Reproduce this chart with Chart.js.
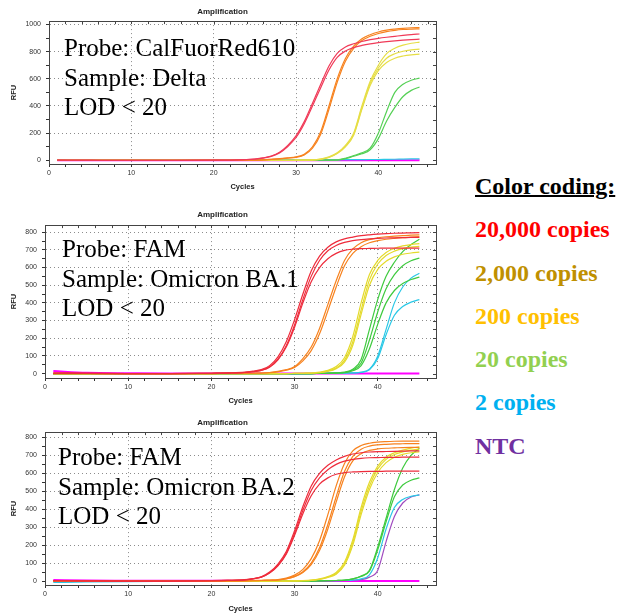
<!DOCTYPE html>
<html>
<head>
<meta charset="utf-8">
<script src="https://cdn.jsdelivr.net/npm/chart.js@4.4.1/dist/chart.umd.min.js"></script>
<style>
  body { margin: 0; background: #fff; width: 618px; height: 613px; overflow: hidden; position: relative; }
  canvas { position: absolute; left: 0; }
  .probe { position: absolute; font-family: "Liberation Serif", serif; font-size: 25px; line-height: 29.5px; color: #000; white-space: nowrap; }
  .key { position: absolute; left: 475px; top: 165px; font-family: "Liberation Serif", serif; font-weight: bold; font-size: 24px; line-height: 43.3px; white-space: nowrap; }
</style>
</head>
<body>
<canvas id="delta" width="460" height="195" style="top:0px"></canvas>
<canvas id="ba1" width="460" height="206" style="top:203px"></canvas>
<canvas id="ba2" width="460" height="206" style="top:411px"></canvas>

<div class="probe" style="left:64px; top:33px">Probe: CalFuorRed610<br>Sample: Delta<br>LOD &lt; 20</div>
<div class="probe" style="left:62px; top:234px">Probe: FAM<br>Sample: Omicron BA.1<br>LOD &lt; 20</div>
<div class="probe" style="left:58px; top:442px">Probe: FAM<br>Sample: Omicron BA.2<br>LOD &lt; 20</div>

<div class="key">
  <div style="color:#000; text-decoration: underline; text-decoration-thickness: 2px;">Color coding:</div>
  <div style="color:#ff0000">20,000 copies</div>
  <div style="color:#bf9000">2,000 copies</div>
  <div style="color:#ffc000">200 copies</div>
  <div style="color:#92d050">20 copies</div>
  <div style="color:#00b0f0">2 copies</div>
  <div style="color:#7030a0">NTC</div>
</div>

<script>
const cycles = [1, 5, 10, 15, 20, 22, 24, 25, 26, 27, 28, 29, 30, 31, 32, 33, 34, 35, 36, 37, 38, 39, 40, 41, 42, 43, 44, 45];

// axis ticks (minor marks; labelled every 10 cycles / every yStep RFU)
const xTicks = [0, 2, 4, 6, 8, 10, 12, 14, 16, 18, 20, 22, 24, 26, 28, 30, 32, 34, 36, 38, 40, 42, 44, 46];
const deltaYTicks = [0, 100, 200, 300, 400, 500, 600, 700, 800, 900, 1000];
const famYTicks = [0, 50, 100, 150, 200, 250, 300, 350, 400, 450, 500, 550, 600, 650, 700, 750, 800];

// Delta, CalFuorRed610
const deltaRed1    = [2,1,0,0,1,2, 6,10,18,32,60,110, 180,285,420,560,695,788, 835,858,875,888,898,906, 913,920,926,930];
const deltaRed2    = [1,0,0,0,1,2, 5,9,16,29,55,102, 168,270,400,535,665,758, 805,830,846,858,867,874, 880,885,889,892];
const deltaOrange1 = [0,0,0,0,0,0, 1,2,4,8,12,18, 25,45,100,210,400,600, 750,840,895,925,945,958, 966,972,976,978];
const deltaOrange2 = [0,0,0,0,0,0, 1,2,3,7,11,16, 22,40,90,192,375,575, 730,825,882,913,934,948, 957,963,966,968];
const deltaYellow1 = [0,0,0,0,0,0, 0,0,0,0,0,0, 1,2,3,10,25,55, 110,200,400,580,700,785, 825,848,862,870];
const deltaYellow2 = [0,0,0,0,0,0, 0,0,0,0,0,0, 1,2,3,9,23,52, 105,192,385,565,680,752, 785,803,813,819];
const deltaYellow3 = [0,0,0,0,0,0, 0,0,0,0,0,0, 1,2,3,8,21,50, 100,185,375,550,660,720, 752,768,777,782];
const deltaGreen1  = [0,0,0,0,0,0, 0,0,0,0,0,0, 0,0,0,1,2,3, 15,35,55,90,200,360, 500,560,590,605];
const deltaGreen2  = [0,0,0,0,0,0, 0,0,0,0,0,0, 0,0,0,1,1,2, 12,30,48,78,160,290, 390,470,515,540];
const deltaCyan    = [3,2,2,2,2,2, 2,2,2,2,3,3, 3,3,3,4,4,4, 5,5,5,6,6,7, 8,9,10,11];
const deltaNtc     = [1,0,0,0,0,0, 0,0,0,0,0,0, 0,0,0,0,0,0, 0,0,0,0,0,0, 0,0,0,0];

// Omicron BA.1, FAM
const ba1Red1    = [3,1,0,0,2,4, 8,14,22,45,95,180, 305,450,580,665,715,745, 762,772,780,785,789,792, 794,795,796,797];
const ba1Red2    = [3,1,0,0,2,3, 6,11,18,38,82,158, 275,420,550,640,695,725, 742,752,758,762,765,767, 768,769,770,770];
const ba1Red3    = [3,1,0,0,2,3, 6,11,18,36,78,150, 262,400,520,600,650,680, 697,704,707,708,709,710, 710,710,710,710];
const ba1Orange1 = [0,0,0,0,0,1, 1,2,3,6,12,22, 40,85,150,255,390,525, 640,705,740,758,768,774, 778,781,783,785];
const ba1Orange2 = [0,0,0,0,0,1, 1,2,3,5,10,19, 35,72,130,225,355,490, 610,680,718,740,752,760, 765,769,772,775];
const ba1Yellow1 = [0,0,0,0,0,0, 0,0,0,0,0,0, 1,2,3,8,18,40, 90,210,400,560,640,685, 708,722,730,735];
const ba1Yellow2 = [0,0,0,0,0,0, 0,0,0,0,0,0, 1,2,3,6,15,32, 75,180,360,530,620,668, 693,707,715,720];
const ba1Yellow3 = [0,0,0,0,0,0, 0,0,0,0,0,0, 1,1,2,5,12,28, 65,160,335,500,590,635, 660,675,682,687];
const ba1Green1  = [0,0,0,0,0,0, 0,0,0,0,0,0, 0,0,0,1,2,4, 8,25,80,250,420,550, 630,690,730,760];
const ba1Green2  = [0,0,0,0,0,0, 0,0,0,0,0,0, 0,0,0,1,2,3, 6,20,60,190,350,480, 560,610,638,653];
const ba1Green3  = [0,0,0,0,0,0, 0,0,0,0,0,0, 0,0,0,1,2,3, 5,16,45,140,280,400, 470,510,532,546];
const ba1Cyan1   = [-5,-2,-1,0,0,0, 0,0,0,0,0,0, 0,0,0,1,1,2, 3,4,8,25,100,250, 400,490,540,568];
const ba1Cyan2   = [-4,-2,-1,0,0,0, 0,0,0,0,0,0, 0,0,0,1,1,2, 2,4,6,22,85,220, 330,380,404,418];
const ba1Ntc     = [14,4,2,1,1,0, 0,0,0,0,0,0, 0,0,0,0,0,0, 0,0,0,0,0,0, 0,1,1,1];

// Omicron BA.2, FAM
const ba2Red1    = [2,1,0,0,2,4, 8,14,24,50,95,165, 280,415,530,600,645,675, 695,708,715,719,721,722, 723,724,725,725];
const ba2Red2    = [2,1,0,0,2,4, 7,12,22,46,88,155, 265,395,505,575,620,650, 668,678,684,687,688,689, 689,690,690,690];
const ba2Red3    = [2,1,0,0,2,4, 7,12,22,45,85,150, 255,375,475,540,575,595, 604,608,610,611,611,612, 612,612,612,612];
const ba2Orange1 = [0,0,0,0,0,1, 2,3,4,6,8,16, 33,65,125,225,370,530, 655,725,755,768,774,777, 779,780,780,780];
const ba2Orange2 = [0,0,0,0,0,1, 2,2,3,4,6,13, 26,52,100,185,315,470, 610,695,735,752,759,762, 764,765,766,766];
const ba2Orange3 = [0,0,0,0,0,0, 1,2,3,4,6,12, 24,48,92,170,290,440, 580,670,710,728,736,740, 742,744,745,745];
const ba2Yellow1 = [0,0,0,0,0,0, 0,0,0,0,0,0, 1,2,5,12,25,48, 105,230,410,550,640,690, 715,730,740,748];
const ba2Yellow2 = [0,0,0,0,0,0, 0,0,0,0,0,0, 1,2,4,10,22,42, 95,215,390,530,625,678, 705,720,730,736];
const ba2Yellow3 = [0,0,0,0,0,0, 0,0,0,0,0,0, 1,2,4,9,20,38, 88,200,370,510,605,660, 690,706,715,720];
const ba2Green1  = [0,0,0,0,0,0, 0,0,0,0,0,0, 0,0,0,1,2,3, 5,12,28,60,190,350, 510,630,700,740];
const ba2Green2  = [0,0,0,0,0,0, 0,0,0,0,0,0, 0,0,0,1,2,3, 5,12,26,55,175,330, 470,535,562,575];
const ba2Cyan    = [-8,-5,-3,-2,-1,0, 0,0,1,1,1,1, 1,1,1,2,2,2, 3,5,12,35,130,290, 410,455,472,480];
const ba2Purple  = [0,0,0,0,0,0, 0,0,0,0,0,0, 0,0,1,1,2,2, 3,5,8,22,60,220, 360,435,468,480];
const ba2Ntc     = [6,3,2,1,1,1, 0,0,0,0,0,0, 0,0,0,0,0,0, 0,0,0,0,0,0, 0,0,0,0];

const RED = '#ee2c3c', ORANGE = '#f7821e', YELLOW = '#e4da2c', GREEN = '#3fca3f',
      CYAN = '#2ac8e6', PURPLE = '#a04cc0', MAGENTA = '#ff00ff';

Chart.defaults.font.family = 'Liberation Sans';

function series(values, color, width) {
  return {
    data: cycles.map((c, i) => ({ x: c, y: values[i] })),
    borderColor: color,
    borderWidth: width || 1.2,
    pointRadius: 0,
    cubicInterpolationMode: 'monotone',
    fill: false
  };
}

const frame = {
  id: 'frame',
  afterDraw(chart) {
    const { ctx, chartArea: a, scales } = chart;
    ctx.save();
    ctx.strokeStyle = '#444';
    ctx.lineWidth = 1;
    ctx.strokeRect(Math.round(a.left) + 0.5, Math.round(a.top) + 0.5,
                   Math.round(a.right - a.left), Math.round(a.bottom - a.top));
    ctx.beginPath();
    scales.x.ticks.forEach(t => {
      const px = Math.round(scales.x.getPixelForValue(t.value)) + 0.5;
      ctx.moveTo(px, a.top); ctx.lineTo(px, a.top + 3);
    });
    scales.y.ticks.forEach(t => {
      const py = Math.round(scales.y.getPixelForValue(t.value)) + 0.5;
      ctx.moveTo(a.right, py); ctx.lineTo(a.right - 3, py);
    });
    ctx.stroke();
    ctx.restore();
  }
};

function makeChart(id, datasets, o) {
  new Chart(document.getElementById(id), {
    type: 'line',
    data: { datasets },
    plugins: [frame],
    options: {
      responsive: false,
      animation: false,
      layout: { padding: { left: 9, right: 24, top: 0, bottom: 0 } },
      plugins: {
        legend: { display: false },
        tooltip: { enabled: false },
        title: {
          display: true, text: 'Amplification', color: '#222',
          font: { size: 8, weight: 'bold' },
          padding: { top: 7, bottom: o.titleBottom }
        }
      },
      scales: {
        x: {
          type: 'linear', min: 0, max: 47,
          afterBuildTicks: s => { s.ticks = xTicks.map(v => ({ value: v })); },
          afterFit: s => { s.height = o.xHeight; },
          ticks: {
            autoSkip: false, maxRotation: 0, padding: 2,
            font: { size: 7 }, color: '#333',
            callback: v => (v % 10 === 0 ? v : '')
          },
          grid: {
            color: c => (c.tick && c.tick.value % 10 === 0 && c.tick.value > 0 ? '#8c8c8c' : 'rgba(0,0,0,0)'),
            tickColor: '#333', tickLength: 3
          },
          border: { color: '#444', dash: [1, 3] },
          title: { display: true, text: 'Cycles', color: '#222', font: { size: 7.5, weight: 'bold' }, padding: { top: 0, bottom: 4 } }
        },
        y: {
          min: o.yMin, max: o.yMax,
          afterBuildTicks: s => { s.ticks = o.yTicks.map(v => ({ value: v })); },
          afterFit: s => { s.width = o.yWidth; },
          ticks: {
            autoSkip: false, padding: 5,
            font: { size: 7 }, color: '#333',
            callback: v => (v % o.yStep === 0 ? v : '')
          },
          grid: {
            color: c => (c.tick && c.tick.value % o.yStep === 0 && c.tick.value > 0 ? '#8c8c8c' : 'rgba(0,0,0,0)'),
            tickColor: '#333', tickLength: 3
          },
          border: { color: '#444', dash: [1, 3] },
          title: { display: true, text: 'RFU', color: '#222', font: { size: 7.5, weight: 'bold' }, padding: { top: 0, bottom: 0 } }
        }
      }
    }
  });
}

makeChart('delta', [
  series(deltaRed1, '#f03a58'), series(deltaRed2, '#f03a58'),
  series(deltaOrange1, ORANGE), series(deltaOrange2, ORANGE),
  series(deltaYellow1, '#e6de46'), series(deltaYellow2, '#e6de46'), series(deltaYellow3, '#e6de46'),
  series(deltaGreen1, '#55d055'), series(deltaGreen2, '#55d055'),
  series(deltaCyan, CYAN), series(deltaNtc, MAGENTA, 2)
], { yMin: -27, yMax: 1025, yTicks: deltaYTicks, yStep: 200, yWidth: 40, xHeight: 31, titleBottom: 4.5 });

makeChart('ba1', [
  series(ba1Red1, RED), series(ba1Red2, RED), series(ba1Red3, RED),
  series(ba1Orange1, ORANGE), series(ba1Orange2, ORANGE),
  series(ba1Yellow1, YELLOW), series(ba1Yellow2, YELLOW), series(ba1Yellow3, YELLOW),
  series(ba1Green1, GREEN), series(ba1Green2, GREEN), series(ba1Green3, GREEN),
  series(ba1Cyan1, CYAN), series(ba1Cyan2, CYAN), series(ba1Ntc, MAGENTA, 2)
], { yMin: -25, yMax: 840, yTicks: famYTicks, yStep: 100, yWidth: 36, xHeight: 31, titleBottom: 5.5 });

makeChart('ba2', [
  series(ba2Red1, RED), series(ba2Red2, RED), series(ba2Red3, RED),
  series(ba2Orange1, ORANGE), series(ba2Orange2, ORANGE), series(ba2Orange3, ORANGE),
  series(ba2Yellow1, YELLOW), series(ba2Yellow2, YELLOW), series(ba2Yellow3, YELLOW),
  series(ba2Green1, GREEN), series(ba2Green2, GREEN),
  series(ba2Cyan, CYAN), series(ba2Purple, PURPLE), series(ba2Ntc, MAGENTA, 2)
], { yMin: -22, yMax: 830, yTicks: famYTicks, yStep: 100, yWidth: 36, xHeight: 32, titleBottom: 4.5 });
</script>
</body>
</html>
